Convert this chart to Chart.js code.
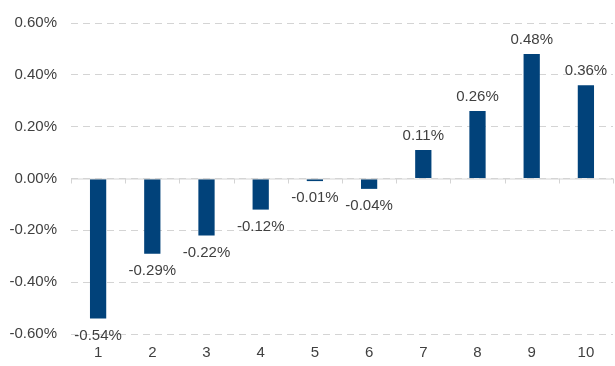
<!DOCTYPE html>
<html>
<head>
<meta charset="utf-8">
<script src="https://cdn.jsdelivr.net/npm/chart.js@4/dist/chart.umd.min.js"></script>
<style>
  html, body { margin: 0; padding: 0; background: #fff; }
  #wrap { width: 615px; height: 366px; position: relative; }
</style>
</head>
<body>
<div id="wrap"><canvas id="barChart"></canvas></div>
<script>
const categories = ["1", "2", "3", "4", "5", "6", "7", "8", "9", "10"];
const values = [-0.54, -0.29, -0.22, -0.12, -0.01, -0.04, 0.11, 0.26, 0.48, 0.36];
const yTicks = [-0.6, -0.4, -0.2, 0, 0.2, 0.4, 0.6];

const textColor = "#404040";
const barColor = "#01427A";
const gridColor = "#d4d4d4";

// zero line with small tick marks + value labels
const extras = {
  id: "extras",
  afterDatasetsDraw(chart) {
    const { ctx, scales: { x, y } } = chart;
    const y0 = y.getPixelForValue(0);
    ctx.save();
    ctx.strokeStyle = gridColor;
    ctx.lineWidth = 1;
    ctx.beginPath();
    ctx.moveTo(x.left, y0 + 0.5);
    ctx.lineTo(x.right, y0 + 0.5);
    for (let i = 0; i <= categories.length; i++) {
      const px = Math.round(x.getPixelForValue(i - 0.5)) + 0.5;
      ctx.moveTo(px, y0);
      ctx.lineTo(px, y0 + 5);
    }
    ctx.stroke();

    ctx.fillStyle = textColor;
    ctx.font = "15px 'Liberation Sans', Arial, sans-serif";
    ctx.textAlign = "center";
    ctx.textBaseline = "middle";
    chart.getDatasetMeta(0).data.forEach((bar, i) => {
      const v = values[i];
      const ty = v < 0 ? bar.y + 17 : bar.y - 14;
      ctx.fillText(v.toFixed(2) + "%", bar.x, ty);
    });
    ctx.restore();
  }
};

new Chart(document.getElementById("barChart"), {
  type: "bar",
  data: {
    labels: categories,
    datasets: [{
      data: values,
      backgroundColor: barColor,
      borderWidth: 0,
      barPercentage: 0.3,
      categoryPercentage: 1
    }]
  },
  options: {
    responsive: true,
    maintainAspectRatio: false,
    animation: false,
    layout: { padding: { top: 17, right: 2, bottom: 0, left: 0 } },
    plugins: {
      legend: { display: false },
      tooltip: { enabled: false }
    },
    scales: {
      x: {
        grid: { display: false, drawTicks: false },
        border: { display: false },
        ticks: {
          color: textColor,
          font: { family: "'Liberation Sans', Arial, sans-serif", size: 15 },
          padding: 10,
          maxRotation: 0
        },
        afterFit(scale) { scale.height = 32; }
      },
      y: {
        min: -0.6,
        max: 0.6,
        afterBuildTicks(scale) {
          scale.ticks = yTicks.map(v => ({ value: v }));
        },
        grid: { color: gridColor, lineWidth: 1, drawTicks: false },
        border: { display: false, dash: [7, 5] },
        ticks: {
          color: textColor,
          font: { family: "'Liberation Sans', Arial, sans-serif", size: 15 },
          padding: 14,
          callback: v => v.toFixed(2) + "%"
        },
        afterFit(scale) { scale.width = 71; }
      }
    }
  },
  plugins: [extras]
});
</script>
</body>
</html>
